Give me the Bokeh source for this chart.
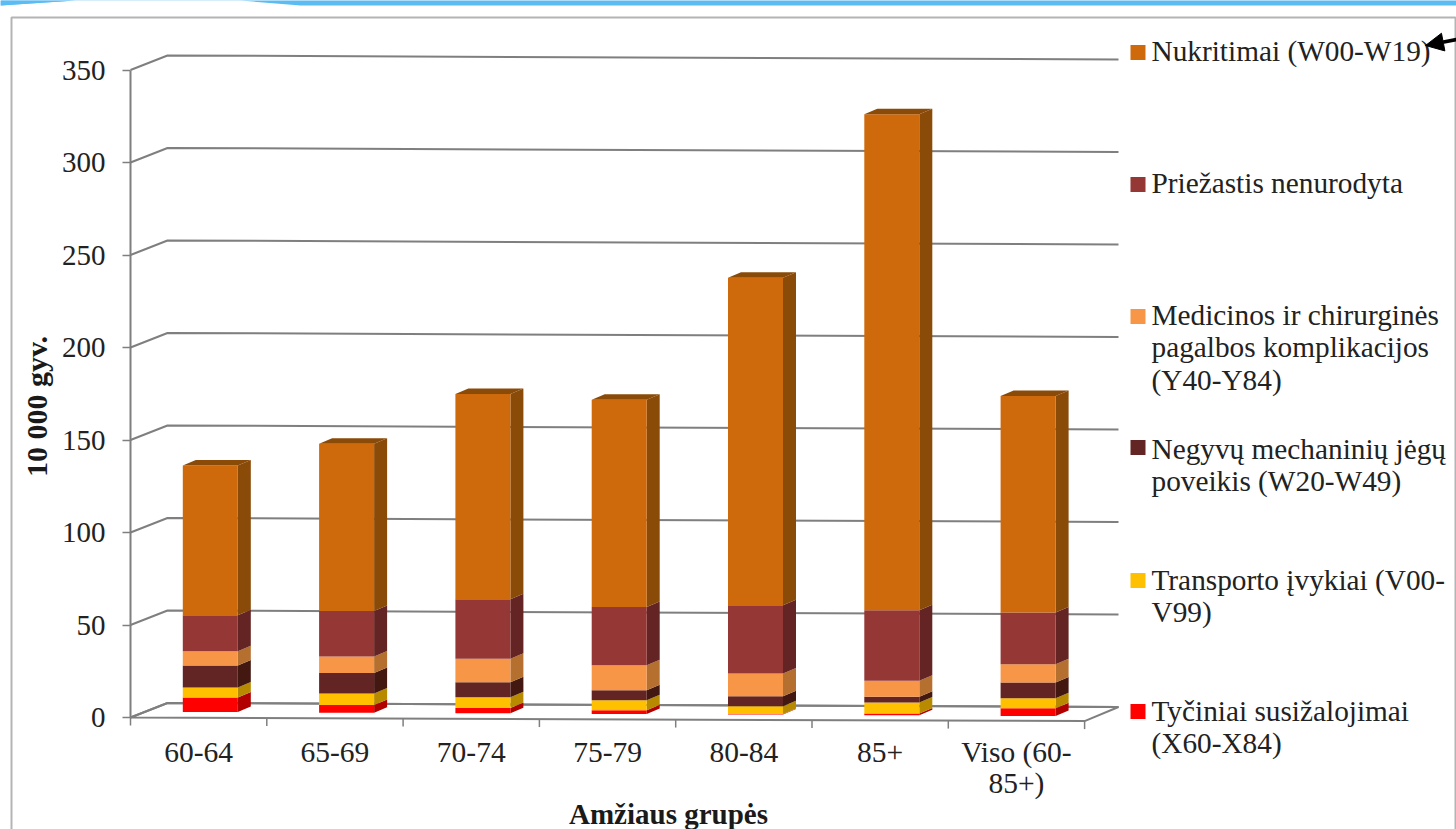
from bokeh.plotting import figure
from bokeh.embed import file_html
from bokeh.resources import INLINE
from bokeh.core.properties import value
from bokeh.models import Range1d, FixedTicker, LinearAxis, Arrow, NormalHead

# Injury rates per 10 000 residents, stacked bottom to top
age_groups = ["60-64", "65-69", "70-74", "75-79", "80-84", "85+", "Viso (60-\n85+)"]
tyciniai = [7.8, 4.1, 2.9, 2.0, 0.3, 0.9, 4.2]
transportas = [5.4, 6.3, 5.8, 5.4, 4.2, 6.0, 5.4]
mechaninis = [12.0, 11.0, 8.1, 5.4, 5.4, 3.1, 8.4]
medicinos = [7.6, 8.9, 12.7, 13.5, 12.3, 8.6, 9.9]
nenurodyta = [19.5, 24.6, 32.1, 31.5, 36.9, 38.2, 28.0]
nukritimai = [81.0, 90.5, 111.0, 112.0, 177.0, 268.0, 117.0]

y_ticks = [0, 50, 100, 150, 200, 250, 300, 350]

legend_labels = [
    "Nukritimai (W00-W19)",
    "Priežastis nenurodyta",
    "Medicinos ir chirurginės\npagalbos komplikacijos\n(Y40-Y84)",
    "Negyvų mechaninių jėgų\npoveikis (W20-W49)",
    "Transporto įvykiai (V00-\nV99)",
    "Tyčiniai susižalojimai\n(X60-X84)",
]

# Layout: page pixels per data unit and the page position of the data origin
PX_PER_CAT = 136.3
PX_PER_VAL = 1.85
ORIGIN_X = 130
ORIGIN_Y = 717
WIDTH, HEIGHT = 1456, 829


def dx(px):
    return px / PX_PER_CAT


def dy(px):
    return px / PX_PER_VAL


def X(px):
    return (px - ORIGIN_X) / PX_PER_CAT


def Y(py):
    return (ORIGIN_Y - py) / PX_PER_VAL


FONT = value("Liberation Serif")
TEXT_COLOR = "#222222"
AXIS_COLOR = "#7f7f7f"

p = figure(
    width=WIDTH,
    height=HEIGHT,
    x_range=Range1d(X(0), X(WIDTH)),
    y_range=Range1d(Y(HEIGHT), Y(0)),
    output_backend="svg",
    toolbar_location=None,
    min_border=0,
    outline_line_color=None,
    x_axis_type=None,
    y_axis_type=None,
)
p.grid.visible = False

# Strip along the top of the slide, with its white notch
p.patch(
    [X(v) for v in (0, 75, 240, 300, 1456, 1456, 0)],
    [Y(v) for v in (5, 0, 0, 5, 5, -2, -2)],
    fill_color="#5bbcf4", line_color=None,
)
p.patch(
    [X(v) for v in (0, 75, 0)],
    [Y(v) for v in (0, 0, 5)],
    fill_color="#5bbcf4", line_color=None,
)

# Outer chart border
p.line(
    [X(11), X(11), X(1455), X(1455)],
    [Y(829), Y(17), Y(17), Y(829)],
    line_color="#b4b4b4", line_width=2,
)

# Back wall and side wall gridlines of the 3D frame
WALL_DX = dx(37)
WALL_DY = dy(14.5)
RIGHT_END = X(1118)
BACK_TILT = dy(4)
for v in y_ticks:
    p.line(
        [0, WALL_DX, RIGHT_END],
        [v, v + WALL_DY, v + WALL_DY - BACK_TILT],
        line_color=AXIS_COLOR, line_width=2,
    )

# Floor outline and category ticks; the front edge falls slightly to the right
n = len(age_groups)
FRONT_TILT = dy(3.6)
p.line(
    [0, n, RIGHT_END, WALL_DX, 0],
    [0, -FRONT_TILT, WALL_DY - BACK_TILT, WALL_DY, 0],
    line_color=AXIS_COLOR, line_width=2,
)
p.segment(
    list(range(n + 1)),
    [-FRONT_TILT * i / n for i in range(n + 1)],
    list(range(n + 1)),
    [-FRONT_TILT * i / n - dy(8) for i in range(n + 1)],
    line_color=AXIS_COLOR, line_width=1.5,
)

# Stacked 3D columns: front face, right side and top
series = [tyciniai, transportas, mechaninis, medicinos, nenurodyta, nukritimai]
front_colors = ["#fe0000", "#ffc000", "#632523", "#f79646", "#953735", "#cf6a0c"]
side_colors = ["#b20000", "#b88a00", "#421811", "#b5702f", "#632423", "#8a4a08"]

BAR_LEFT = dx(52.3)
BAR_WIDTH = dx(55)
SIDE_DX = dx(13)
SIDE_DY = dy(5.5)
FLOOR_LIFT = dy(5.5)
FLOOR_STEP = dy(0.65)

for i in range(n):
    left = i + BAR_LEFT
    right = left + BAR_WIDTH
    level = FLOOR_LIFT - FLOOR_STEP * i
    for values, front, side in zip(series, front_colors, side_colors):
        top = level + values[i]
        p.patch(
            [right, right + SIDE_DX, right + SIDE_DX, right],
            [level, level + SIDE_DY, top + SIDE_DY, top],
            fill_color=side, line_color=None,
        )
        p.quad(left=left, right=right, bottom=level, top=top,
               fill_color=front, line_color=None)
        level = top
    p.patch(
        [left, right, right + SIDE_DX, left + SIDE_DX],
        [level, level, level + SIDE_DY, level + SIDE_DY],
        fill_color=side_colors[-1], line_color=None,
    )

# Value axis on the front left edge
y_axis = LinearAxis(
    ticker=FixedTicker(ticks=y_ticks),
    fixed_location=0,
    bounds=(0, 350),
    axis_line_color=AXIS_COLOR,
    axis_line_width=2,
    major_tick_line_color=AXIS_COLOR,
    major_tick_line_width=1.5,
    major_tick_out=8,
    major_tick_in=0,
    minor_tick_line_color=None,
    major_label_standoff=17,
    major_label_text_font="Liberation Serif",
    major_label_text_font_size="29px",
    major_label_text_color=TEXT_COLOR,
)
p.add_layout(y_axis, "left")

# Category labels sit centred between the floor ticks
x_axis = LinearAxis(
    ticker=FixedTicker(ticks=[i + 0.5 for i in range(n)]),
    major_label_overrides={i + 0.5: g for i, g in enumerate(age_groups)},
    fixed_location=0,
    axis_line_color=None,
    major_tick_line_color=None,
    minor_tick_line_color=None,
    major_label_standoff=12,
    major_label_text_font="Liberation Serif",
    major_label_text_font_size="29.5px",
    major_label_text_line_height=0.98,
    major_label_text_color=TEXT_COLOR,
)
p.add_layout(x_axis, "below")

# Axis titles
p.text(
    [X(668)], [Y(813)], text=["Amžiaus grupės"],
    text_font=FONT, text_font_size="29px", text_font_style="bold",
    text_color="#1a1a1a", text_align="center", text_baseline="middle",
)
p.text(
    [X(36)], [Y(406)], text=["10 000 gyv."], angle=1.5708,
    text_font=FONT, text_font_size="30px", text_font_style="bold",
    text_color="#1a1a1a", text_align="center", text_baseline="middle",
)

# Legend, top series first
swatch_colors = list(reversed(front_colors))
swatch_y = [52, 184, 316, 447, 580, 711]
text_y = [51, 183, 315, 449, 580, 711]
p.quad(
    left=[X(1130)] * 6,
    right=[X(1145)] * 6,
    top=[Y(v - 7.5) for v in swatch_y],
    bottom=[Y(v + 7.5) for v in swatch_y],
    fill_color=swatch_colors,
    line_color=None,
)
p.text(
    [X(1151)] * 6,
    [Y(v - 17) for v in text_y],
    text=legend_labels,
    text_font=FONT,
    text_font_size="29.3px",
    text_color=TEXT_COLOR,
    text_align="left",
    text_baseline="top",
    text_line_height=1.02,
)

# Pointer at the first legend entry
p.add_layout(Arrow(
    end=NormalHead(size=18, fill_color="black", line_color="black"),
    x_start=X(1456), y_start=Y(39),
    x_end=X(1425), y_end=Y(45),
    line_color="black", line_width=3.5,
))

open("out.html", "w").write(file_html(p, INLINE))
